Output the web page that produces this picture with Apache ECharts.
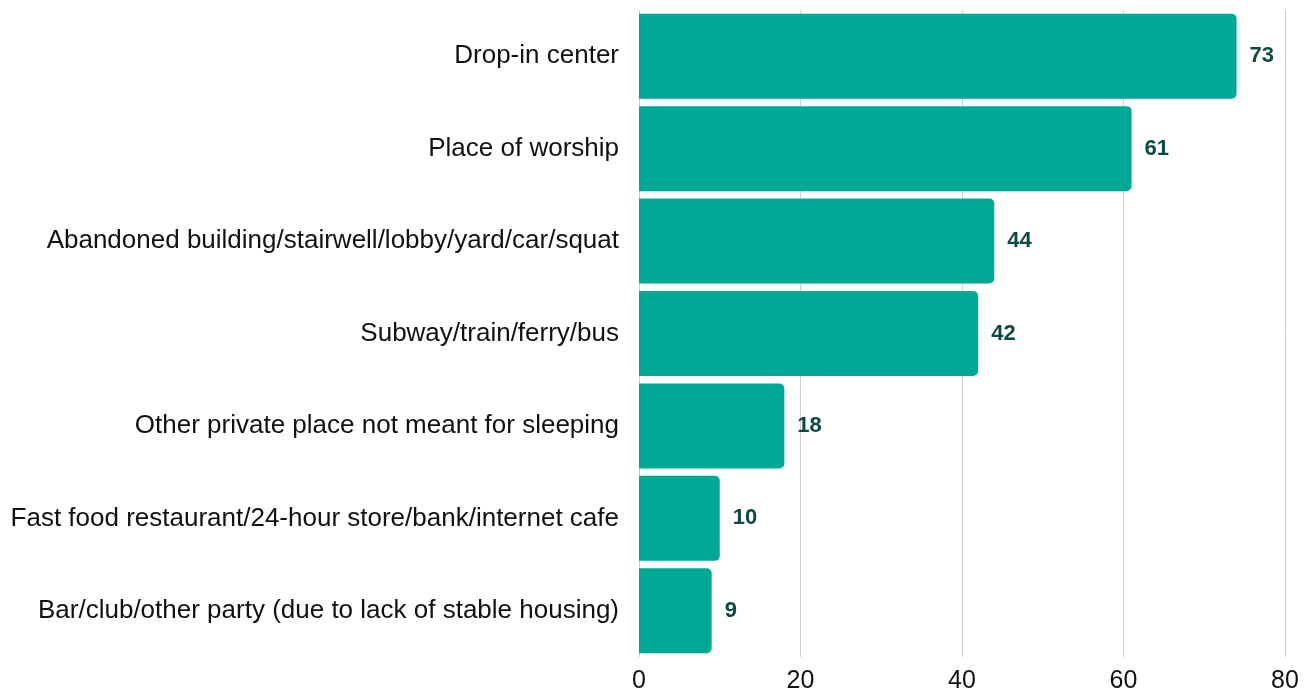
<!DOCTYPE html>
<html>
<head>
<meta charset="utf-8">
<script src="https://cdn.jsdelivr.net/npm/echarts@6/dist/echarts.min.js"></script>
<style>
html,body{margin:0;padding:0;background:#fff;}
#chart{width:1312px;height:694px;}
</style>
</head>
<body>
<div id="chart"></div>
<script>
const categories = [
  "Drop-in center",
  "Place of worship",
  "Abandoned building/stairwell/lobby/yard/car/squat",
  "Subway/train/ferry/bus",
  "Other private place not meant for sleeping",
  "Fast food restaurant/24-hour store/bank/internet cafe",
  "Bar/club/other party (due to lack of stable housing)"
];
const values = [74, 61, 44, 42, 18, 10, 9];
const valueLabels = ["73", "61", "44", "42", "18", "10", "9"];
const xTicks = [0, 20, 40, 60, 80];

const chart = echarts.init(document.getElementById('chart'), null, {renderer: 'canvas'});
chart.setOption({
  animation: false,
  backgroundColor: '#ffffff',
  grid: {left: 639, right: 27, top: 10, bottom: 26, containLabel: false},
  xAxis: {
    type: 'value',
    min: xTicks[0],
    max: xTicks[xTicks.length - 1],
    interval: 20,
    axisLine: {show: false},
    axisTick: {show: false},
    splitLine: {show: true, lineStyle: {color: '#cfcfcf', width: 1}},
    axisLabel: {
      color: '#111111',
      fontFamily: 'Liberation Sans, Arial, sans-serif',
      fontSize: 25,
      margin: 12
    }
  },
  yAxis: {
    type: 'category',
    data: categories,
    inverse: true,
    axisLine: {show: false},
    axisTick: {show: false},
    splitLine: {show: false},
    axisLabel: {
      color: '#111111',
      fontFamily: 'Liberation Sans, Arial, sans-serif',
      fontSize: 26,
      margin: 20
    }
  },
  series: [{
    type: 'bar',
    data: values,
    barCategoryGap: '8%',
    itemStyle: {color: '#00A896', borderRadius: [0, 5, 5, 0]},
    label: {
      show: true,
      position: 'right',
      distance: 13,
      color: '#0d4a40',
      fontWeight: 'bold',
      fontFamily: 'Liberation Sans, Arial, sans-serif',
      fontSize: 22,
      formatter: p => valueLabels[p.dataIndex]
    }
  }]
});
</script>
</body>
</html>
